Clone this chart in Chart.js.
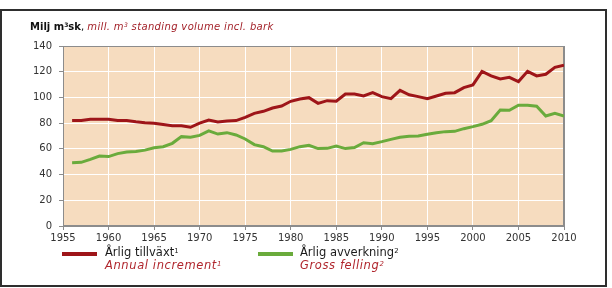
<!DOCTYPE html>
<html>
<head>
<meta charset="utf-8">
<script src="https://cdn.jsdelivr.net/npm/chart.js@4.4.1/dist/chart.umd.min.js"></script>
<style>
  body { margin: 0; background: #fff; }
  #wrap { position: relative; width: 612px; height: 288px; overflow: hidden; font-family: "DejaVu Sans", sans-serif; }
  #frame { position: absolute; left: 0; top: 9px; width: 603px; height: 274px; border: 2px solid #2e2e2e; }
  #myChart { position: absolute; left: 0; top: 0; }
  #title { position: absolute; left: 30px; top: 21px; font-size: 10px; white-space: nowrap; color: #111; }
  #title b { font-weight: bold; }
  #title i { color: #a3222a; letter-spacing: 0.35px; }
  sup { font-size: 0.6em; vertical-align: 0.5em; line-height: 0; }
  .leg { position: absolute; top: 246px; font-size: 11.5px; line-height: 13px; white-space: nowrap; color: #1a1a1a; }
  .leg i { color: #b0262d; letter-spacing: 0.6px; }
  .swatch { position: absolute; top: 252px; width: 35px; height: 4px; }
</style>
</head>
<body>
<div id="wrap">
  <div id="frame"></div>
  <canvas id="myChart" width="612" height="288"></canvas>
  <div id="title"><b>Milj m<sup>3</sup>sk</b>, <i>mill. m<sup>3</sup> standing volume incl. bark</i></div>
  <div class="swatch" style="left:62px; background:#9e1519;"></div>
  <div class="leg" style="left:105px;">Årlig tillväxt<sup>1</sup><br><i>Annual increment<sup>1</sup></i></div>
  <div class="swatch" style="left:258px; background:#6aab3c;"></div>
  <div class="leg" style="left:300px;">Årlig avverkning<sup>2</sup><br><i>Gross felling<sup>2</sup></i></div>
</div>
<script>
'use strict';

// ** DATA **

let years = [
  1956, 1957, 1958, 1959, 1960, 1961, 1962, 1963, 1964, 1965,
  1966, 1967, 1968, 1969, 1970, 1971, 1972, 1973, 1974, 1975,
  1976, 1977, 1978, 1979, 1980, 1981, 1982, 1983, 1984, 1985,
  1986, 1987, 1988, 1989, 1990, 1991, 1992, 1993, 1994, 1995,
  1996, 1997, 1998, 1999, 2000, 2001, 2002, 2003, 2004, 2005,
  2006, 2007, 2008, 2009, 2010
];

// Årlig tillväxt / Annual increment
let increment = [
  82, 82, 83, 83, 83, 82, 82, 81, 80.4, 80,
  79, 78, 78, 76.8, 80, 82.4, 80.9, 81.7, 82, 84.5,
  87.6, 89.2, 91.8, 93.3, 97, 98.8, 99.8, 95.4, 97.5, 97,
  102.7, 102.7, 101.1, 103.7, 100.6, 99, 105.5, 102.1, 100.6, 99,
  101.1, 103.2, 103.7, 107.6, 109.7, 120.3, 116.7, 114.3, 115.6, 112.3,
  120.3, 116.7, 118, 123.4, 125
];

// Årlig avverkning / Gross felling
let felling = [
  49.2, 49.5, 51.8, 54.4, 54, 56.3, 57.5, 58, 59, 60.9,
  61.7, 64.3, 69.5, 69, 70.5, 74, 71.5, 72.6, 70.8, 67.7,
  63.3, 61.7, 58.3, 58.3, 59.6, 61.7, 62.7, 60.2, 60.4, 62.2,
  60.2, 61, 64.8, 64, 65.6, 67.4, 69, 69.8, 70, 71.3,
  72.6, 73.4, 73.6, 75.7, 77.3, 79.1, 81.9, 90.2, 90, 93.9,
  93.9, 93.1, 85.6, 87.6, 85.6
];

let xTicks = [1955, 1960, 1965, 1970, 1975, 1980, 1985, 1990, 1995, 2000, 2005, 2010];
let yTicks = [0, 20, 40, 60, 80, 100, 120, 140];

// ** HELPERS **

function toPoints(values) {
  let pts = [];
  for (let i = 0; i < years.length; i++) {
    pts.push({ x: years[i], y: values[i] });
  }
  return pts;
}

const edgeGrey = '#8c8c8c';

// peach plot background + grey box round it
const plotBox = {
  id: 'plotBox',
  beforeDraw(chart) {
    let a = chart.chartArea;
    let c = chart.ctx;
    c.save();
    c.fillStyle = '#f6dcbf';
    c.fillRect(a.left, a.top, a.width, a.height);
    c.restore();
  },
  beforeDatasetsDraw(chart) {
    let a = chart.chartArea;
    let c = chart.ctx;
    c.save();
    c.strokeStyle = edgeGrey;
    c.lineWidth = 1;
    c.strokeRect(a.left + 0.5, a.top + 0.5, a.width - 1, a.height - 1);
    c.restore();
  }
};

const ctx = document.getElementById('myChart');

new Chart(ctx, {
  type: 'line',
  data: {
    datasets: [{
      label: 'Årlig tillväxt',
      data: toPoints(increment),
      borderColor: '#9e1519',
      borderWidth: 3,
      pointRadius: 0,
      tension: 0
    },
    {
      label: 'Årlig avverkning',
      data: toPoints(felling),
      borderColor: '#6aab3c',
      borderWidth: 3,
      pointRadius: 0,
      tension: 0
    }]
  },
  options: {
    responsive: false,
    animation: false,
    layout: { padding: { left: 30, top: 46, right: 48, bottom: 42 } },
    plugins: {
      legend: { display: false },
      tooltip: { enabled: false }
    },
    scales: {
      x: {
        type: 'linear',
        min: xTicks[0],
        max: xTicks[xTicks.length - 1],
        afterFit(scale) { scale.height = 20; },
        afterBuildTicks(scale) { scale.ticks = xTicks.map(v => ({ value: v })); },
        ticks: {
          padding: 2,
          maxRotation: 0,
          autoSkip: false,
          color: '#333',
          font: { family: 'DejaVu Sans', size: 10 },
          callback: v => String(v)
        },
        grid: {
          color: c => (c.tick && (c.tick.value === 1955 || c.tick.value === 2010)) ? edgeGrey : '#ffffff',
          tickColor: edgeGrey,
          tickLength: 4,
          lineWidth: 1
        },
        border: { color: edgeGrey }
      },
      y: {
        min: 0,
        max: 140,
        afterFit(scale) { scale.width = 33; },
        afterBuildTicks(scale) { scale.ticks = yTicks.map(v => ({ value: v })); },
        ticks: {
          padding: 7,
          color: '#333',
          font: { family: 'DejaVu Sans', size: 10 }
        },
        grid: {
          color: c => (c.tick && (c.tick.value === 0 || c.tick.value === 140)) ? edgeGrey : '#ffffff',
          tickColor: edgeGrey,
          tickLength: 4,
          lineWidth: 1
        },
        border: { color: edgeGrey }
      }
    }
  },
  plugins: [plotBox]
});
</script>
</body>
</html>
